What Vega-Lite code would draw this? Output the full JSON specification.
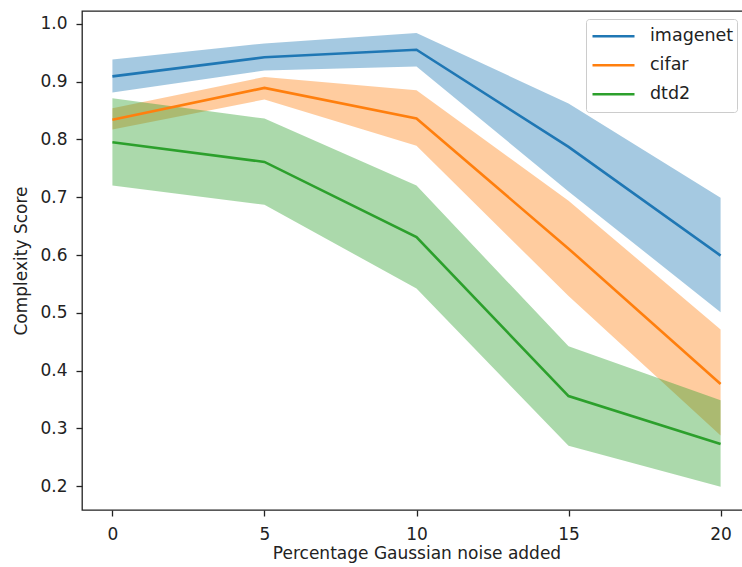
{
  "$schema": "https://vega.github.io/schema/vega-lite/v6.json",
  "autosize": {"type": "none"},
  "padding": {"left": 82, "top": 11, "right": 0, "bottom": 57},
  "width": 669,
  "height": 499,
  "background": "white",
  "config": {
    "font": "DejaVu Sans",
    "view": {"stroke": "#222222", "strokeWidth": 1.3},
    "axis": {
      "grid": false,
      "domain": false,
      "tickColor": "#222222",
      "tickSize": 6,
      "tickWidth": 1.3,
      "labelFont": "DejaVu Sans",
      "labelFontSize": 17,
      "labelColor": "#222222",
      "titleFont": "DejaVu Sans",
      "titleFontSize": 17,
      "titleFontWeight": "normal",
      "titleColor": "#222222"
    }
  },
  "data": {
    "values": [
      {"series": "imagenet", "x": 0, "mean": 0.909, "lo": 0.881, "hi": 0.938},
      {"series": "imagenet", "x": 5, "mean": 0.942, "lo": 0.919, "hi": 0.966},
      {"series": "imagenet", "x": 10, "mean": 0.955, "lo": 0.926, "hi": 0.984},
      {"series": "imagenet", "x": 15, "mean": 0.787, "lo": 0.710, "hi": 0.862},
      {"series": "imagenet", "x": 20, "mean": 0.599, "lo": 0.501, "hi": 0.699},
      {"series": "cifar", "x": 0, "mean": 0.834, "lo": 0.817, "hi": 0.854},
      {"series": "cifar", "x": 5, "mean": 0.889, "lo": 0.869, "hi": 0.908},
      {"series": "cifar", "x": 10, "mean": 0.836, "lo": 0.789, "hi": 0.885},
      {"series": "cifar", "x": 15, "mean": 0.611, "lo": 0.529, "hi": 0.694},
      {"series": "cifar", "x": 20, "mean": 0.377, "lo": 0.288, "hi": 0.471},
      {"series": "dtd2", "x": 0, "mean": 0.795, "lo": 0.720, "hi": 0.871},
      {"series": "dtd2", "x": 5, "mean": 0.761, "lo": 0.687, "hi": 0.836},
      {"series": "dtd2", "x": 10, "mean": 0.631, "lo": 0.542, "hi": 0.720},
      {"series": "dtd2", "x": 15, "mean": 0.356, "lo": 0.270, "hi": 0.442},
      {"series": "dtd2", "x": 20, "mean": 0.273, "lo": 0.199, "hi": 0.349}
    ]
  },
  "encoding": {
    "x": {
      "field": "x",
      "type": "quantitative",
      "scale": {"domain": [-1, 21], "nice": false, "zero": false},
      "axis": {"values": [0, 5, 10, 15, 20], "title": "Percentage Gaussian noise added", "labelPadding": 10, "titlePadding": 3, "labelFlush": false}
    }
  },
  "layer": [
    {
      "mark": {"type": "area", "opacity": 0.4},
      "encoding": {
        "y": {
          "field": "lo",
          "type": "quantitative",
          "scale": {"domain": [0.159, 1.022], "nice": false, "zero": false},
          "axis": {"values": [0.2, 0.3, 0.4, 0.5, 0.6, 0.7, 0.8, 0.9, 1.0], "format": ".1f", "title": "Complexity Score", "labelPadding": 9, "titlePadding": 9, "labelFlush": false}
        },
        "y2": {"field": "hi"},
        "fill": {
          "field": "series",
          "type": "nominal",
          "scale": {"domain": ["imagenet", "cifar", "dtd2"], "range": ["#1f77b4", "#ff7f0e", "#2ca02c"]}
        }
      }
    },
    {
      "mark": {"type": "line", "strokeWidth": 2.6},
      "encoding": {
        "y": {"field": "mean", "type": "quantitative"},
        "stroke": {
          "field": "series",
          "type": "nominal",
          "scale": {"domain": ["imagenet", "cifar", "dtd2"], "range": ["#1f77b4", "#ff7f0e", "#2ca02c"]},
          "legend": {
            "title": null,
            "orient": "none",
            "legendX": 504,
            "legendY": 8,
            "symbolType": "stroke",
            "symbolSize": 1764,
            "symbolStrokeWidth": 2.6,
            "symbolOpacity": 1,
            "clipHeight": 28.5,
            "rowPadding": 0,
            "padding": 3,
            "symbolOffset": 2,
            "labelOffset": 14,
            "labelFontSize": 17.5,
            "labelFont": "DejaVu Sans",
            "labelColor": "#222222",
            "strokeColor": "#cccccc",
            "fillColor": "white",
            "cornerRadius": 3,
            "encode": {
              "symbols": {
                "update": {
                  "opacity": {"value": 1},
                  "strokeOpacity": {"value": 1},
                  "fillOpacity": {"value": 0}
                }
              }
            }
          }
        }
      }
    }
  ]
}
